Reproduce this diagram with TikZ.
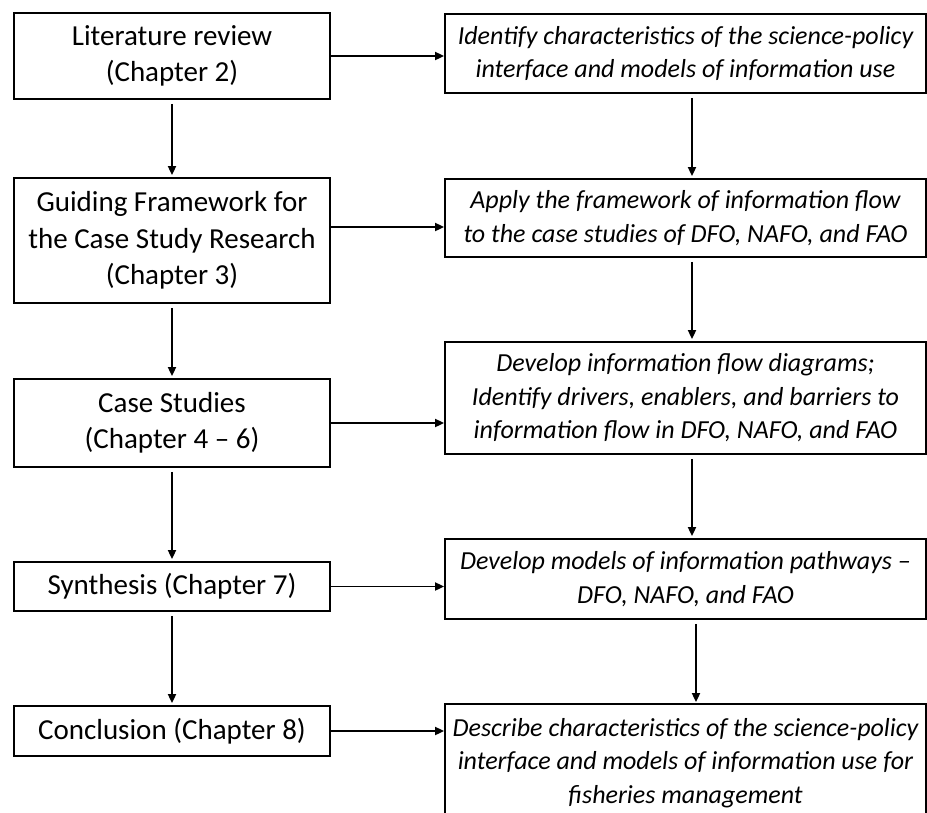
\documentclass[tikz,border=0pt]{standalone}
\usepackage{fontspec}
\setmainfont{Carlito}
\usetikzlibrary{arrows.meta}
\begin{document}
\begin{tikzpicture}[x=1pt,y=-1pt,
  box/.style={draw, line width=1.8pt, inner sep=0pt, align=center},
  leftbox/.style={box, minimum width=316pt, font=\fontsize{29}{36.5}\selectfont},
  rightbox/.style={box, minimum width=481pt, font=\fontsize{26}{33.5}\selectfont\itshape},
  flow/.style={line width=1.8pt, -{Triangle[length=9pt,width=8pt]}}
]
\useasboundingbox (0,0) rectangle (927,812);
\clip (0,0) rectangle (927,812);

% chapters (left column)
\node[leftbox, minimum height=86pt]  (L1) at (172,56)    {Literature review\\(Chapter 2)};
\node[leftbox, minimum height=125pt] (L2) at (172,240.5) {Guiding Framework for\\the Case Study Research\\(Chapter 3)};
\node[leftbox, minimum height=88pt]  (L3) at (172,423)   {Case Studies\\(Chapter 4 -- 6)};
\node[leftbox, minimum height=49pt]  (L4) at (172,586.5) {Synthesis (Chapter 7)};
\node[leftbox, minimum height=50pt]  (L5) at (172,731)   {Conclusion (Chapter 8)};

% activities (right column)
\node[rightbox, minimum height=79pt]  (R1) at (685.5,53.5) {Identify characteristics of the science-policy\\interface and models of information use};
\node[rightbox, minimum height=78pt]  (R2) at (685.5,218)  {Apply the framework of information flow\\to the case studies of DFO, NAFO, and FAO};
\node[rightbox, minimum height=112pt] (R3) at (685.5,398)  {Develop information flow diagrams;\\Identify drivers, enablers, and barriers to\\information flow in DFO, NAFO, and FAO};
\node[rightbox, minimum height=80pt]  (R4) at (685.5,579)  {Develop models of information pathways --\\DFO, NAFO, and FAO};
\node[rightbox, minimum height=118pt] (R5) at (685.5,763)  {Describe characteristics of the science-policy\\interface and models of information use for\\fisheries management};

% horizontal links
\coordinate (L2out) at ([yshift=13.5pt]L2.east);
\draw[flow] (L1.east) -- (L1.east -| R1.west);
\draw[flow] (L2out) -- (L2out -| R2.west);
\draw[flow] (L3.east) -- (L3.east -| R3.west);
\draw[flow] (L4.east) -- (L4.east -| R4.west);
\draw[flow] (L5.east) -- (L5.east -| R5.west);

% left column sequence
\draw[flow] ([yshift=-4pt]L1.south) -- ([yshift=2pt]L2.north);
\draw[flow] ([yshift=-4pt]L2.south) -- ([yshift=2pt]L3.north);
\draw[flow] ([yshift=-4pt]L3.south) -- ([yshift=2pt]L4.north);
\draw[flow] ([yshift=-4pt]L4.south) -- ([yshift=2pt]L5.north);

% right column sequence
\draw[flow] ([xshift=6.5pt,yshift=-4pt]R1.south) -- ([xshift=6.5pt,yshift=2pt]R2.north);
\draw[flow] ([xshift=6.5pt,yshift=-4pt]R2.south) -- ([xshift=6.5pt,yshift=2pt]R3.north);
\draw[flow] ([xshift=6.5pt,yshift=-4pt]R3.south) -- ([xshift=6.5pt,yshift=2pt]R4.north);
\draw[flow] ([xshift=10.5pt,yshift=-4pt]R4.south) -- ([xshift=10.5pt,yshift=1pt]R5.north);
\end{tikzpicture}
\end{document}
